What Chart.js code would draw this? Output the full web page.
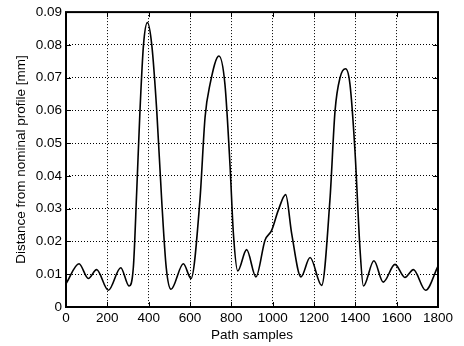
<!DOCTYPE html>
<html lang="en">
<head>
  <meta charset="UTF-8">
  <title>Distance from nominal profile</title>
  <script src="https://cdn.jsdelivr.net/npm/chart.js"></script>
  <style>
    body { margin: 0; padding: 0; background: #fff; }
    #wrap { width: 464px; height: 346px; }
  </style>
</head>
<body>
  <div id="wrap"><canvas id="plot" width="464" height="346"></canvas></div>

  <script>
    // path sample index and deviation [mm]
    const samples = [0, 63, 108, 148, 205, 265, 305, 326, 342, 358, 375, 394, 415, 439, 463, 485, 508,
      568, 605, 648, 673, 697, 740, 769, 794, 810, 831, 874, 919, 963, 995, 1027, 1063, 1092, 1137,
      1181, 1237, 1277, 1302, 1326, 1353, 1374, 1398, 1423, 1439, 1490, 1535, 1592, 1640, 1681, 1740, 1800];
    const distance = [0.0071, 0.0132, 0.0087, 0.0114, 0.0051, 0.0120, 0.0064, 0.0122, 0.035, 0.060, 0.080, 0.0868, 0.080, 0.060, 0.0326, 0.012, 0.0054,
      0.0132, 0.0087, 0.0326, 0.058, 0.068, 0.0766, 0.068, 0.0428, 0.0224, 0.0110, 0.0175, 0.0092, 0.0204, 0.0234, 0.0295, 0.0343, 0.0224, 0.0092,
      0.0151, 0.0066, 0.0326, 0.060, 0.070, 0.0727, 0.068, 0.0479, 0.0173, 0.0064, 0.0141, 0.0076, 0.0130, 0.0090, 0.0114, 0.0051, 0.0125];
    const xTicks = [0, 200, 400, 600, 800, 1000, 1200, 1400, 1600, 1800];
    const yTicks = [0, 0.01, 0.02, 0.03, 0.04, 0.05, 0.06, 0.07, 0.08, 0.09];

    const font = { family: 'Liberation Sans, Arial, sans-serif', size: 13.5 };
    Chart.defaults.color = '#000';
    Chart.defaults.font = font;

    // box + inward tick marks, matlab style
    const frame = {
      id: 'frame',
      afterDraw(chart) {
        const { ctx, chartArea: a, scales } = chart;
        ctx.save();
        ctx.strokeStyle = '#000';
        ctx.lineWidth = 1;
        ctx.beginPath();
        xTicks.forEach(v => {
          const px = Math.round(scales.x.getPixelForValue(v)) + 0.5;
          ctx.moveTo(px, a.bottom); ctx.lineTo(px, a.bottom - 5);
          ctx.moveTo(px, a.top); ctx.lineTo(px, a.top + 5);
        });
        yTicks.forEach(v => {
          const py = Math.round(scales.y.getPixelForValue(v)) + 0.5;
          ctx.moveTo(a.left, py); ctx.lineTo(a.left + 5, py);
          ctx.moveTo(a.right, py); ctx.lineTo(a.right - 5, py);
        });
        ctx.stroke();
        ctx.lineWidth = 2;
        ctx.strokeRect(a.left, a.top, a.right - a.left, a.bottom - a.top);
        ctx.restore();
      }
    };

    new Chart(document.getElementById('plot'), {
      type: 'line',
      data: {
        datasets: [{
          data: samples.map((s, i) => ({ x: s, y: distance[i] })),
          borderColor: '#000',
          borderWidth: 1.6,
          pointRadius: 0,
          fill: false,
          cubicInterpolationMode: 'monotone'
        }]
      },
      options: {
        responsive: false,
        animation: false,
        layout: { padding: { top: 12, right: 26, left: 0, bottom: 0 } },
        plugins: { legend: { display: false }, tooltip: { enabled: false } },
        scales: {
          x: {
            type: 'linear',
            min: 0, max: 1800,
            afterBuildTicks: s => { s.ticks = xTicks.map(v => ({ value: v })); },
            afterFit: s => { s.height = 39; },
            ticks: { padding: 3, maxRotation: 0, autoSkip: false, callback: v => String(v) },
            grid: { color: '#000', lineWidth: 1, drawTicks: false },
            border: { display: false, dash: [1, 2] },
            title: { display: true, text: 'Path samples', font: font, padding: { top: 0, bottom: 3 } }
          },
          y: {
            min: 0, max: 0.09,
            afterBuildTicks: s => { s.ticks = yTicks.map(v => ({ value: v })); },
            afterFit: s => { s.width = 66; },
            ticks: { padding: 4, autoSkip: false, callback: v => String(+v.toFixed(2)) },
            grid: { color: '#000', lineWidth: 1, drawTicks: false },
            border: { display: false, dash: [1, 2] },
            title: { display: true, text: 'Distance from nominal profile [mm]', font: font, padding: { top: 13, bottom: 0 } }
          }
        }
      },
      plugins: [frame]
    });
  </script>
</body>
</html>
